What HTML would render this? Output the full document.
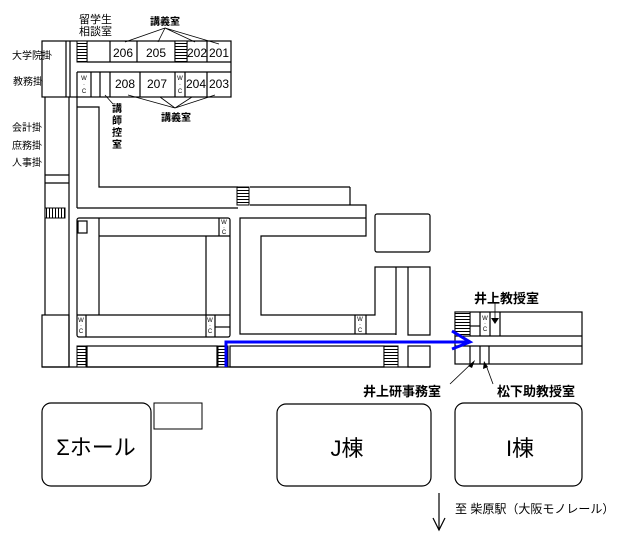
<!DOCTYPE html>
<html><head><meta charset="utf-8"><style>
html,body{margin:0;padding:0;background:#fff;}
svg{display:block;}
text{font-family:"Liberation Sans","Noto Sans CJK JP",sans-serif;fill:#000;}
</style></head><body>
<svg width="620" height="540" viewBox="0 0 620 540" xmlns="http://www.w3.org/2000/svg">
<defs>
<pattern id="hs" width="4" height="3" patternUnits="userSpaceOnUse"><rect width="4" height="3" fill="#fff"/><line x1="0" y1="1.5" x2="4" y2="1.5" stroke="#000" stroke-width="1"/></pattern>
<pattern id="vs" width="3" height="4" patternUnits="userSpaceOnUse"><rect width="3" height="4" fill="#fff"/><line x1="1.5" y1="0" x2="1.5" y2="4" stroke="#000" stroke-width="1"/></pattern>
</defs>
<g fill="none" stroke="#000" stroke-width="1.2">
<rect x="42" y="41" width="189" height="56"/>
<line x1="87" y1="62" x2="231" y2="62"/>
<line x1="77" y1="72" x2="231" y2="72"/>
<line x1="87" y1="41" x2="87" y2="62"/>
<line x1="77" y1="72" x2="77" y2="97"/>
<line x1="66" y1="41" x2="66" y2="97"/>
<line x1="70" y1="41" x2="70" y2="97"/>
<line x1="110" y1="41" x2="110" y2="62"/>
<line x1="137" y1="41" x2="137" y2="62"/>
<line x1="175" y1="41" x2="175" y2="62"/>
<line x1="187" y1="41" x2="187" y2="62"/>
<line x1="207" y1="41" x2="207" y2="62"/>
<line x1="91" y1="72" x2="91" y2="97"/>
<line x1="100" y1="72" x2="100" y2="97"/>
<line x1="110" y1="72" x2="110" y2="97"/>
<line x1="140" y1="72" x2="140" y2="97"/>
<line x1="175" y1="72" x2="175" y2="97"/>
<line x1="185" y1="72" x2="185" y2="97"/>
<line x1="207" y1="72" x2="207" y2="97"/>
<line x1="45" y1="97" x2="45" y2="315"/>
<line x1="69" y1="97" x2="69" y2="367"/>
<line x1="77" y1="97" x2="77" y2="208"/>
<line x1="45" y1="175" x2="69" y2="175"/>
<line x1="45" y1="183" x2="69" y2="183"/>
<path d="M77 107 H99 V187 H238"/>
<line x1="77" y1="208" x2="238" y2="208"/>
<line x1="250" y1="187" x2="350" y2="187"/>
<path d="M350 187 V205"/>
<path d="M250 205 H366 V236 H261 V315 H375 V267 H430 V335 H408 V267"/>
<line x1="396" y1="267" x2="396" y2="335"/>
<path d="M366 218 H240 V334 H396"/>
<rect x="42" y="315" width="27" height="52"/>
<rect x="77" y="218" width="153" height="119" rx="2"/>
<rect x="78" y="221" width="9" height="12"/>
<line x1="99" y1="218" x2="99" y2="315"/>
<line x1="99" y1="236" x2="230" y2="236"/>
<line x1="206" y1="236" x2="206" y2="337"/>
<line x1="219" y1="218" x2="219" y2="236"/>
<line x1="77" y1="315" x2="230" y2="315"/>
<line x1="86" y1="315" x2="86" y2="337"/>
<line x1="215" y1="315" x2="215" y2="337"/>
<line x1="215" y1="327" x2="230" y2="327"/>
<line x1="355" y1="315" x2="355" y2="334"/>
<line x1="366" y1="315" x2="366" y2="334"/>
<rect x="375" y="214" width="55" height="38" rx="2"/>
<line x1="42" y1="367" x2="430" y2="367"/>
<rect x="87" y="346" width="130" height="21"/>
<rect x="230" y="346" width="154" height="21"/>
<rect x="408" y="346" width="22" height="21"/>
<rect x="455" y="312" width="127" height="52"/>
<line x1="455" y1="336" x2="582" y2="336"/>
<line x1="455" y1="346" x2="582" y2="346"/>
<line x1="470" y1="312" x2="470" y2="336"/>
<line x1="470" y1="326" x2="480" y2="326"/>
<line x1="480" y1="312" x2="480" y2="336"/>
<line x1="490" y1="312" x2="490" y2="336"/>
<line x1="500" y1="312" x2="500" y2="336"/>
<line x1="470" y1="346" x2="470" y2="364"/>
<line x1="480" y1="346" x2="480" y2="364"/>
<line x1="489" y1="346" x2="489" y2="364"/>
<path d="M165 28 L125 42 M165 28 L158 42 M165 28 L195 42 M165 28 L219 44" stroke-width="0.8"/>
<path d="M175 108 L128 95 M175 108 L160 97 M175 108 L192 97 M175 108 L215 95" stroke-width="0.8"/>
<line x1="105" y1="95" x2="113" y2="104" stroke-width="0.8"/>
<line x1="450" y1="384" x2="472" y2="363" stroke-width="0.8"/>
<line x1="493" y1="384" x2="486" y2="365" stroke-width="0.8"/>
<line x1="495" y1="302" x2="495" y2="318" stroke-width="0.8"/>
<rect x="42" y="403" width="109" height="83" rx="9"/>
<rect x="154" y="403" width="48" height="26" stroke-width="1"/>
<rect x="277" y="404" width="154" height="82" rx="9"/>
<rect x="455" y="403" width="127" height="83" rx="9"/>
<line x1="439" y1="493" x2="439" y2="530"/>
<path d="M433 518 L439 530 L445 518"/>
</g>
<g stroke="#000" stroke-width="1">
<rect x="77" y="41" width="10" height="21" fill="url(#hs)"/>
<rect x="175" y="41" width="12" height="21" fill="url(#hs)"/>
<rect x="237" y="187" width="12" height="18" fill="url(#hs)"/>
<rect x="45" y="208" width="20" height="10" fill="url(#vs)"/>
<rect x="77" y="346" width="9" height="21" fill="url(#hs)"/>
<rect x="218" y="346" width="10" height="21" fill="url(#hs)"/>
<rect x="384" y="346" width="14" height="21" fill="url(#hs)"/>
<rect x="455" y="312" width="15" height="24" fill="url(#hs)"/>
</g>
<g fill="#000">
<path d="M491 318 L499 318 L495 324 Z"/>
<path d="M475 360 L468 366 L472 368 Z"/>
<path d="M484 361 L483 369 L488 367 Z"/>
</g>
<path d="M226 367 V342 H468" fill="none" stroke="#0000ff" stroke-width="3"/>
<path d="M452 331 L470 342 L452 349" fill="none" stroke="#0000ff" stroke-width="3"/>
<g font-size="11">
<text x="79" y="23">留学生</text>
<text x="79" y="35">相談室</text>
<text x="150" y="25" font-size="10" font-weight="bold">講義室</text>
<text x="161" y="121" font-size="10" font-weight="bold">講義室</text>
<text x="12" y="59" font-size="10">大学院掛</text>
<text x="13" y="85" font-size="10">教務掛</text>
<text x="12" y="131" font-size="10">会計掛</text>
<text x="12" y="149" font-size="10">庶務掛</text>
<text x="12" y="166" font-size="10">人事掛</text>
<text x="112" y="112" font-size="10" font-weight="bold">講</text>
<text x="112" y="124" font-size="10" font-weight="bold">師</text>
<text x="112" y="136" font-size="10" font-weight="bold">控</text>
<text x="112" y="148" font-size="10" font-weight="bold">室</text>
</g>
<g font-size="12" text-anchor="middle">
<text x="123" y="57">206</text>
<text x="156" y="57">205</text>
<text x="197" y="57">202</text>
<text x="219" y="57">201</text>
<text x="125" y="88">208</text>
<text x="157" y="88">207</text>
<text x="196" y="88">204</text>
<text x="219" y="88">203</text>
</g>
<g font-size="6" text-anchor="middle">
<text x="84" y="80">W</text><text x="84" y="86">·</text><text x="84" y="93">C</text>
<text x="180" y="80">W</text><text x="180" y="86">·</text><text x="180" y="93">C</text>
<text x="224" y="224">W</text><text x="224" y="229">·</text><text x="224" y="234">C</text>
<text x="81" y="322">W</text><text x="81" y="327">·</text><text x="81" y="333">C</text>
<text x="210" y="322">W</text><text x="210" y="327">·</text><text x="210" y="333">C</text>
<text x="360" y="321">W</text><text x="360" y="326">·</text><text x="360" y="332">C</text>
<text x="485" y="320">W</text><text x="485" y="325">·</text><text x="485" y="331">C</text>
</g>
<g font-size="13" font-weight="bold">
<text x="474" y="303">井上教授室</text>
<text x="363" y="396">井上研事務室</text>
<text x="497" y="396">松下助教授室</text>
</g>
<g font-size="22" text-anchor="middle">
<text x="96" y="455">Σホール</text>
<text x="347" y="456">J棟</text>
<text x="520" y="456">I棟</text>
</g>
<text x="455" y="513" font-size="12">至 柴原駅（大阪モノレール）</text>
</svg>
</body></html>
